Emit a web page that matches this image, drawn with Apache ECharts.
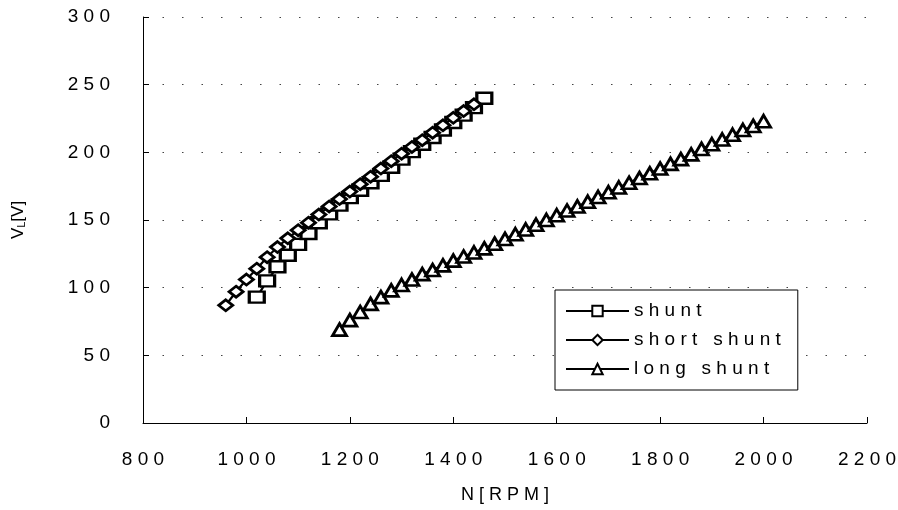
<!DOCTYPE html>
<html>
<head>
<meta charset="utf-8">
<script src="https://cdn.jsdelivr.net/npm/echarts@6/dist/echarts.min.js"></script>
<style>
html,body{margin:0;padding:0;background:#fff;overflow:hidden;}
#c{width:898px;height:510px;}
</style>
</head>
<body>
<div id="c"></div>
<script>
// ---- data ----
var shuntN = [1020,1040,1060,1080,1100,1120,1140,1160,1180,1200,1220,1240,1260,1280,1300,1320,1340,1360,1380,1400,1420,1440,1460];
var shuntV = [93,105,115.5,124,132,140,148,154.5,161,166.5,172,177.5,183,189,195,200.5,206,211,216.5,222,227.5,233,240];

var shortN = [960,980,1000,1020,1040,1060,1080,1100,1120,1140,1160,1180,1200,1220,1240,1260,1280,1300,1320,1340,1360,1380,1400,1420,1440];
var shortV = [87,97,106,114,122.5,130,136.5,142.5,148,154,160,165.5,171,176.5,182,188,193.5,199,204,209,214.5,220,225.5,230.5,235.5];

var longN = [1180,1200,1220,1240,1260,1280,1300,1320,1340,1360,1380,1400,1420,1440,1460,1480,1500,1520,1540,1560,1580,1600,1620,1640,1660,1680,1700,1720,1740,1760,1780,1800,1820,1840,1860,1880,1900,1920,1940,1960,1980,2000];
var longV = [69,76,82,88,93,98,102,106,110,113,116.5,120,123,126,129,132.5,136,139.5,143,146.5,150,153.5,157,160,163.5,167,170.5,174,177.5,181,184.5,188,191.5,195,198.5,202.5,206,209.5,213,216.5,219.5,223];

var seriesNames = ['shunt','short shunt','long shunt'];
var xTicks = {min:800, max:2200, interval:200};
var yTicks = {min:0, max:300, interval:50};
var xName = 'N[RPM]';

function spaced(s){ return String(s).split('').join(' '); }
function pairs(xs, ys){ return xs.map(function(x,i){ return [x, ys[i]]; }); }

var chart = echarts.init(document.getElementById('c'), null, {renderer:'canvas'});
var font = 'Liberation Sans, Arial, sans-serif';
var common = {
  type:'line',
  lineStyle:{color:'#000', width:2.2},
  itemStyle:{color:'#fff', borderColor:'#000', borderWidth:2.8},
  showAllSymbol:true,
  emphasis:{disabled:true}
};
chart.setOption({
  animation:false,
  backgroundColor:'#fff',
  grid:{left:143, right:31, top:17, bottom:87, containLabel:false, outerBoundsMode:'none'},
  legend:{
    orient:'vertical',
    left:555, top:290,
    padding:[11,17,11,10],
    itemWidth:63, itemHeight:13, itemGap:9,
    borderColor:'#000', borderWidth:1, backgroundColor:'#fff',
    textStyle:{fontFamily:font, fontSize:19, color:'#000', lineHeight:20},
    formatter:function(n){ return spaced(n); },
    data:seriesNames
  },
  xAxis:{
    type:'value', min:xTicks.min, max:xTicks.max, interval:xTicks.interval,
    name:spaced(xName), nameLocation:'middle', nameGap:63,
    nameTextStyle:{fontFamily:font, fontSize:18, color:'#000'},
    axisLine:{lineStyle:{color:'#000', width:1}},
    axisTick:{inside:true, length:6, lineStyle:{color:'#000'}},
    axisLabel:{fontFamily:font, fontSize:19, color:'#000', margin:27, formatter:function(v){return spaced(v);}},
    splitLine:{show:false}
  },
  yAxis:{
    type:'value', min:yTicks.min, max:yTicks.max, interval:yTicks.interval,
    name:'{v|V}{s|L}{v|[V]}', nameLocation:'middle', nameGap:116, nameRotate:90,
    nameTextStyle:{fontFamily:font, fontSize:17, color:'#000',
      rich:{v:{fontFamily:font, fontSize:17, color:'#000'}, s:{fontFamily:font, fontSize:11, color:'#000', verticalAlign:'bottom', padding:[6,0,0,0]}}},
    axisLine:{show:true, lineStyle:{color:'#000', width:1}},
    axisTick:{show:true, inside:true, length:6, lineStyle:{color:'#000'}},
    axisLabel:{fontFamily:font, fontSize:19, color:'#000', margin:33, formatter:function(v){return spaced(v);}},
    splitLine:{show:true, lineStyle:{color:'#444', width:1.2, type:[1.5,18]}}
  },
  series:[
    Object.assign({}, common, {name:seriesNames[0], symbol:'rect', symbolSize:[15,11], data:pairs(shuntN, shuntV), z:2}),
    Object.assign({}, common, {name:seriesNames[1], symbol:'diamond', symbolSize:[14,11], data:pairs(shortN, shortV), z:3}),
    Object.assign({}, common, {name:seriesNames[2], symbol:'triangle', symbolSize:[14,12], data:pairs(longN, longV), z:4})
  ]
});
</script>
</body>
</html>
